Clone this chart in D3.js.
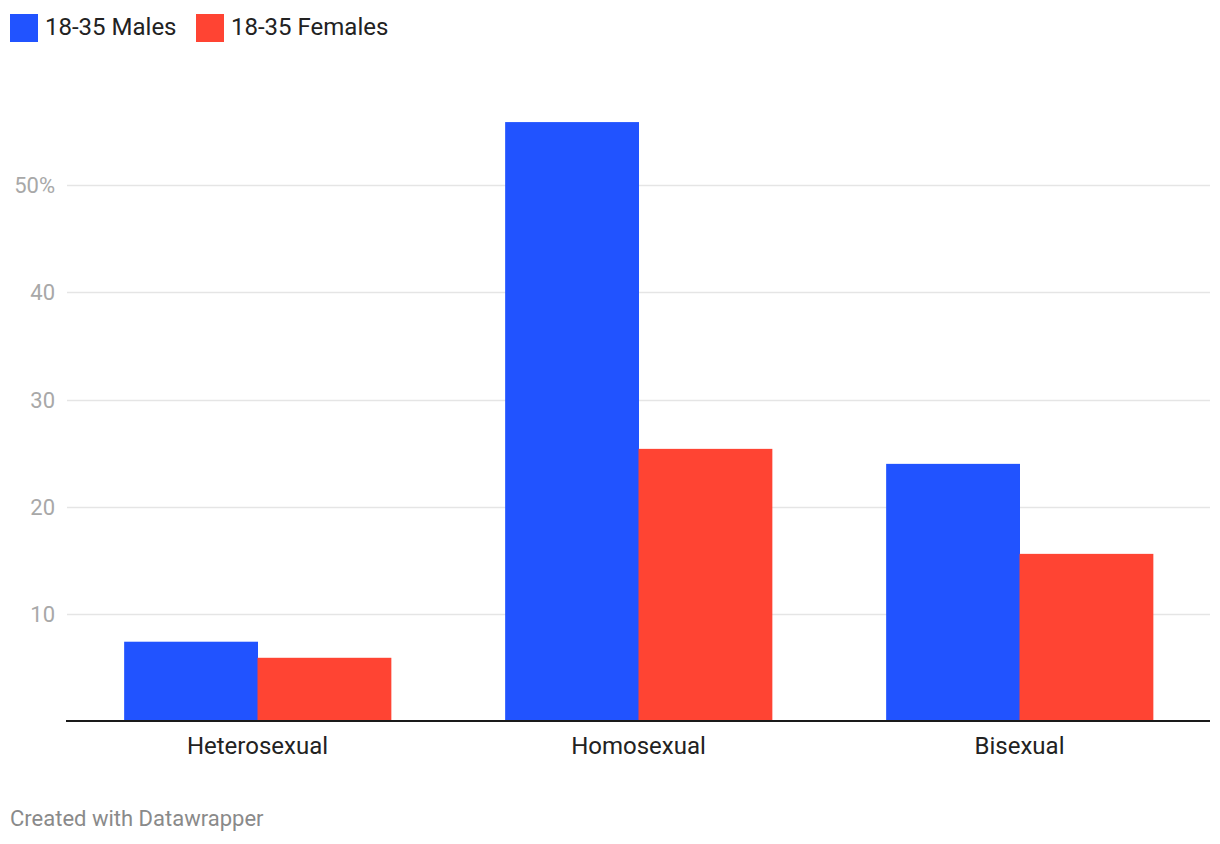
<!DOCTYPE html>
<html><head><meta charset="utf-8">
<script src="https://cdn.jsdelivr.net/npm/d3@7"></script>
<style>body{margin:0;background:#fff;font-family:Roboto,sans-serif;}</style>
</head><body><svg id="c" width="1220" height="844"></svg>
<script>
const categories = ["Heterosexual","Homosexual","Bisexual"];
const seriesNames = ["18-35 Males","18-35 Females"];
const males = [7.4, 55.9, 24.0];
const females = [5.9, 25.4, 15.6];
const yTicks = [10,20,30,40,50];
const colors = ["#2153ff","#ff4433"];

const svg = d3.select("#c");
const x = d3.scaleBand().domain(categories).range([67,1210]).paddingInner(0.3).paddingOuter(0.15);
const xs = d3.scaleBand().domain(seriesNames).range([0,x.bandwidth()]);
const y = d3.scaleLinear().domain([0,50]).range([721,185.3]);

// gridlines
svg.append("g").selectAll("line").data(yTicks).join("line")
  .attr("x1",67).attr("x2",1210).attr("y1",d=>Math.round(y(d))+0.5).attr("y2",d=>Math.round(y(d))+0.5)
  .attr("stroke","#e5e5e5").attr("stroke-width",1.5);
svg.append("g").selectAll("text").data(yTicks).join("text")
  .attr("x",55).attr("y",d=>y(d)+8).attr("text-anchor","end")
  .attr("font-size",22).attr("fill","#a8a8a8")
  .text(d=>d===50? d+"%" : d);

const data = categories.map((c,i)=>({c, vals:[males[i],females[i]]}));
const g = svg.append("g").selectAll("g").data(data).join("g")
  .attr("transform",d=>`translate(${x(d.c)},0)`);
g.selectAll("rect").data(d=>d.vals.map((v,j)=>({v,s:seriesNames[j],j}))).join("rect")
  .attr("x",d=>xs(d.s)).attr("width",xs.bandwidth()+0.5)
  .attr("y",d=>y(d.v)).attr("height",d=>y(0)-y(d.v))
  .attr("fill",d=>colors[d.j]);

// baseline
svg.append("line").attr("x1",66).attr("x2",1210).attr("y1",721).attr("y2",721)
  .attr("stroke","#1a1a1a").attr("stroke-width",2);

// category labels
svg.append("g").selectAll("text").data(categories).join("text")
  .attr("x",d=>x(d)+x.bandwidth()/2).attr("y",754).attr("text-anchor","middle")
  .attr("font-size",24).attr("fill","#222").text(d=>d);

// legend
const lx = [10,196];
const lg = svg.append("g").selectAll("g").data(seriesNames).join("g")
  .attr("transform",(d,i)=>`translate(${lx[i]},14)`);
lg.append("rect").attr("width",28).attr("height",28).attr("fill",(d,i)=>colors[i]);
lg.append("text").attr("x",35).attr("y",21).attr("font-size",24).attr("fill","#222").text(d=>d);

svg.append("text").attr("x",10).attr("y",826).attr("font-size",22).attr("fill","#8a8a8a").text("Created with Datawrapper");
</script></body></html>
